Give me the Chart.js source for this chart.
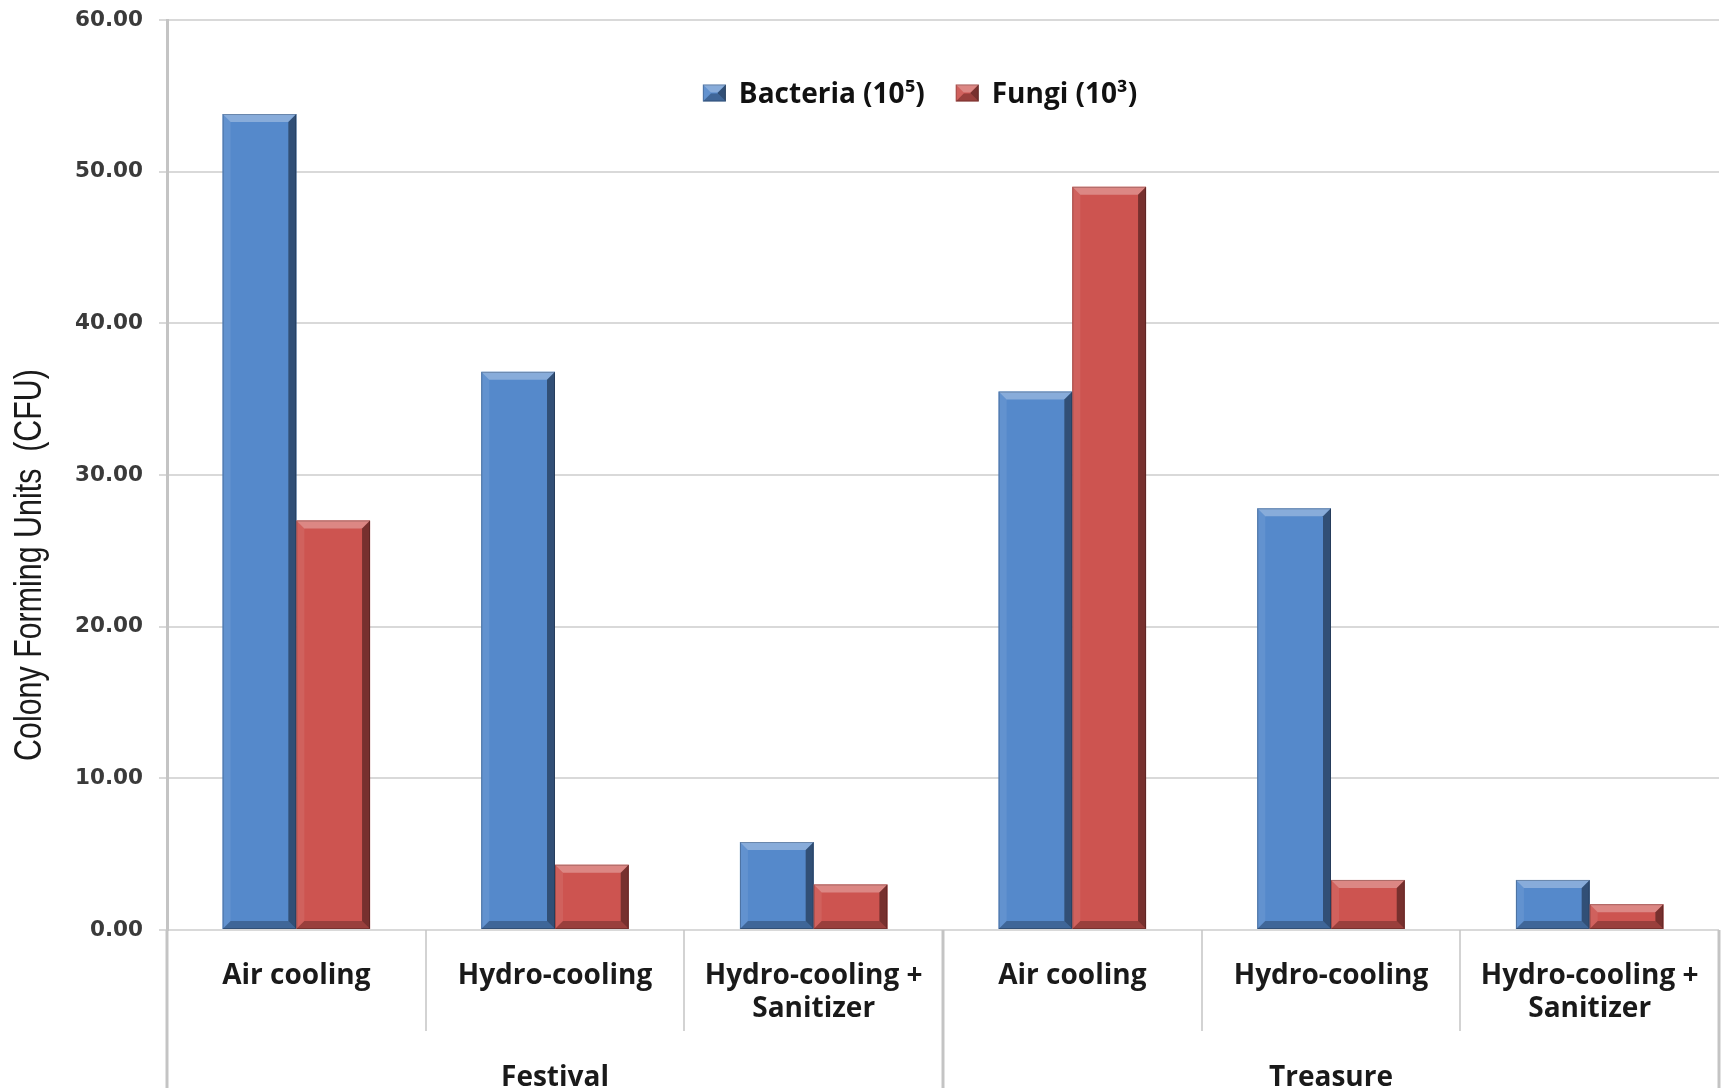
<!DOCTYPE html>
<html>
<head>
<meta charset="utf-8">
<script src="https://cdn.jsdelivr.net/npm/chart.js@4.4.1/dist/chart.umd.min.js"></script>
<style>
  html, body { margin: 0; padding: 0; background: #fff; }
  #wrap { width: 1725px; height: 1088px; }
</style>
</head>
<body>
<div id="wrap"><canvas id="chart"></canvas></div>
<script>
  const CATEGORIES = [
    "Air cooling",
    "Hydro-cooling",
    ["Hydro-cooling +", "Sanitizer"],
    "Air cooling",
    "Hydro-cooling",
    ["Hydro-cooling +", "Sanitizer"],
  ];
  const GROUPS = ["Festival", "Treasure"];
  const BACTERIA = [53.8, 36.8, 5.8, 35.5, 27.8, 3.3];
  const FUNGI = [27.0, 4.3, 3.0, 49.0, 3.3, 1.7];
  const SERIES_NAMES = ["Bacteria (10\u2075)", "Fungi (10\u00b3)"];
  const Y_MIN = 0;
  const Y_MAX = 60;
  const Y_STEP = 10;
  const Y_TITLE = "Colony Forming Units  (CFU)";

  const BLUE = "#5589cb";
  const RED = "#cd5450";
  const GRID_COLOR = "#d9d9d9";
  const AXIS_COLOR = "#c4c4c4";
  const LABEL_FONT = "'Open Sans', 'DejaVu Sans', sans-serif";

  // excel style bevel on top of a plain rectangle
  function drawBevel(ctx, x0, y0, x1, y1, color) {
    const w = x1 - x0;
    const h = y1 - y0;
    if (w <= 0 || h <= 0) return;
    const s = Math.min(8, w / 2, h / 2);
    ctx.save();
    ctx.fillStyle = color;
    ctx.fillRect(x0, y0, w, h);
    const quad = (pts, fill) => {
      ctx.beginPath();
      ctx.moveTo(pts[0][0], pts[0][1]);
      for (let i = 1; i < pts.length; i++) ctx.lineTo(pts[i][0], pts[i][1]);
      ctx.closePath();
      ctx.fillStyle = fill;
      ctx.fill();
    };
    quad([[x0, y0], [x1, y0], [x1 - s, y0 + s], [x0 + s, y0 + s]], "rgba(255,255,255,0.30)");
    quad([[x0, y0], [x0 + s, y0 + s], [x0 + s, y1 - s], [x0, y1]], "rgba(255,255,255,0.08)");
    quad([[x1, y0], [x1, y1], [x1 - s, y1 - s], [x1 - s, y0 + s]], "rgba(0,0,0,0.42)");
    quad([[x0, y1], [x1, y1], [x1 - s, y1 - s], [x0 + s, y1 - s]], "rgba(0,0,0,0.25)");
    ctx.strokeStyle = "rgba(0,0,0,0.22)";
    ctx.lineWidth = 1;
    ctx.strokeRect(x0 + 0.5, y0 + 0.5, w - 1, h - 1);
    ctx.restore();
  }

  function noEdgePadding(scale) {
    scale.paddingTop = 0;
    scale.paddingBottom = 0;
    scale.paddingLeft = 0;
    scale.paddingRight = 0;
  }

  const decorPlugin = {
    id: "decor",
    afterDatasetsDraw(chart) {
      const ctx = chart.ctx;
      chart.data.datasets.forEach((ds, i) => {
        const meta = chart.getDatasetMeta(i);
        meta.data.forEach((bar) => {
          const half = bar.width / 2;
          drawBevel(ctx, bar.x - half, bar.y, bar.x + half, bar.base, ds.backgroundColor);
        });
      });
    },
    afterDraw(chart) {
      const ctx = chart.ctx;
      const { left, right, top, bottom } = chart.chartArea;
      const xScale = chart.scales.x;

      // category / group separators below the axis
      ctx.save();
      ctx.strokeStyle = AXIS_COLOR;
      for (let i = 0; i <= CATEGORIES.length; i++) {
        const x = Math.round(xScale.getPixelForValue(i - 0.5));
        const isGroupEdge = i % 3 === 0;
        ctx.lineWidth = isGroupEdge ? 3 : 1.5;
        ctx.beginPath();
        ctx.moveTo(x, bottom);
        ctx.lineTo(x, isGroupEdge ? chart.height : bottom + 101);
        ctx.stroke();
      }
      ctx.restore();

      // legend inside the plot, one row
      const boxW = 23, boxH = 17, gap = 13, itemGap = 31;
      ctx.save();
      ctx.font = "bold 28px " + LABEL_FONT;
      const items = chart.data.datasets.map((ds) => ({
        text: ds.label,
        color: ds.backgroundColor,
        w: ctx.measureText(ds.label).width,
      }));
      const total = items.reduce((a, it) => a + boxW + gap + it.w, 0) + itemGap * (items.length - 1);
      let x = (left + right) / 2 - 23 - total / 2;
      const cy = top + 75;
      items.forEach((it) => {
        drawBevel(ctx, x, cy - boxH / 2 - 2, x + boxW, cy + boxH / 2 - 2, it.color);
        ctx.fillStyle = "#111";
        ctx.textAlign = "left";
        ctx.textBaseline = "middle";
        ctx.fillText(it.text, x + boxW + gap, cy);
        x += boxW + gap + it.w + itemGap;
      });
      ctx.restore();

      // y title, condensed
      ctx.save();
      ctx.translate(31, 565);
      ctx.rotate(-Math.PI / 2);
      ctx.scale(0.8, 1);
      ctx.font = "38px 'Liberation Sans', sans-serif";
      ctx.fillStyle = "#1a1a1a";
      ctx.textAlign = "center";
      ctx.textBaseline = "middle";
      ctx.fillText(Y_TITLE, 0, 0);
      ctx.restore();
    },
  };

  new Chart(document.getElementById("chart"), {
    type: "bar",
    data: {
      labels: CATEGORIES,
      datasets: [
        { label: SERIES_NAMES[0], data: BACTERIA, backgroundColor: BLUE, borderWidth: 0 },
        { label: SERIES_NAMES[1], data: FUNGI, backgroundColor: RED, borderWidth: 0 },
      ],
    },
    options: {
      responsive: true,
      maintainAspectRatio: false,
      animation: false,
      events: [],
      layout: { padding: { top: 20, right: 6, left: 0, bottom: 0 } },
      datasets: { bar: { categoryPercentage: 0.57, barPercentage: 1.0 } },
      plugins: {
        tooltip: { enabled: false },
        legend: { display: false },
      },
      scales: {
        x: {
          type: "category",
          position: "bottom",
          offset: true,
          grid: { display: false, drawTicks: false },
          border: { display: false },
          ticks: {
            autoSkip: false,
            maxRotation: 0,
            padding: 30,
            color: "#1a1a1a",
            font: { family: LABEL_FONT, size: 28, weight: "bold", lineHeight: "33px" },
          },
          afterFit(scale) { scale.height = 93; noEdgePadding(scale); },
        },
        x2: {
          type: "category",
          position: "bottom",
          labels: GROUPS,
          offset: true,
          grid: { display: false, drawTicks: false },
          border: { display: false },
          ticks: {
            padding: 39,
            color: "#1a1a1a",
            font: { family: LABEL_FONT, size: 28, weight: "bold", lineHeight: "33px" },
          },
          afterFit(scale) { scale.height = 65; noEdgePadding(scale); },
        },
        y: {
          min: Y_MIN,
          max: Y_MAX,
          ticks: {
            stepSize: Y_STEP,
            padding: 16,
            color: "#3a3a3a",
            font: { family: "'DejaVu Sans', sans-serif", size: 21.5, weight: "bold" },
            callback: (v) => Number(v).toFixed(2),
          },
          grid: { color: GRID_COLOR, lineWidth: 2, tickLength: 8 },
          border: { display: true, color: AXIS_COLOR, width: 3 },
          afterFit(scale) { scale.width = 167; noEdgePadding(scale); },
        },
      },
    },
    plugins: [decorPlugin],
  });
</script>
</body>
</html>
